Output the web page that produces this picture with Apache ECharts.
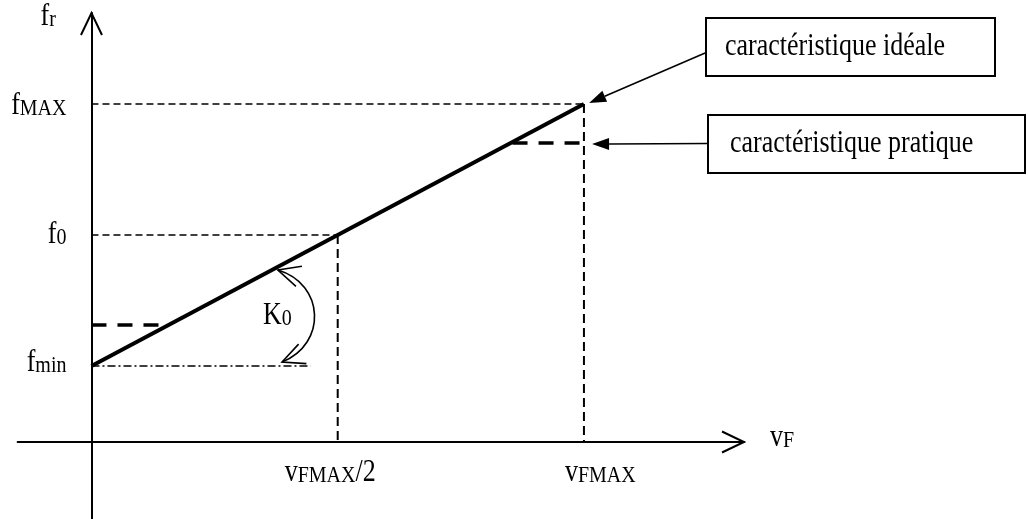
<!DOCTYPE html>
<html>
<head>
<meta charset="utf-8">
<script src="https://cdn.jsdelivr.net/npm/echarts@6/dist/echarts.min.js"></script>
<style>
  html, body { margin: 0; padding: 0; background: #fff; }
  #main { width: 1028px; height: 519px; }
</style>
</head>
<body>
<div id="main"></div>
<script>
// axis extents (v_F horizontal, f_r vertical)
var vRange = [-0.3, 2.65]
var fRange = [-0.77, 4.29]

// ticks of the v_F axis : v_FMAX/2 and v_FMAX
var vTicks = [1, 2]
var vTickLabels = ['v{s|FMAX}/2', 'v{s|FMAX}']

// ticks of the f_r axis : f_min, f_0, f_MAX
var fTicks = [0.76, 2.07, 3.38]
var fTickLabels = ['f{s|min}', 'f{s|0}', 'f{s|MAX}']

// axis names
var vName = 'v{s|F}'
var fName = 'f{s|r}'

// ideal characteristic  f_r = f_min + K0 * v_F
var ideal = [[0, 0.76], [2, 3.38]]
// practical characteristic (limits)
var practicalLow = [[0, 1.17], [0.29, 1.17]]
var practicalHigh = [[1.71, 2.99], [2, 2.99]]

// construction lines
var fmaxGuideH = [[0, 3.38], [2, 3.38]]
var fmaxGuideV = [[2, 3.38], [2, 0]]
var f0GuideH = [[0, 2.07], [1, 2.07]]
var f0GuideV = [[1, 2.07], [1, 0]]
var fminGuide = [[0, 0.76], [0.89, 0.76]]

// K0 curved arrow (start, ctrl1, ctrl2, end) and its label
var k0Arc = [[0.757, 1.72], [0.948, 1.58], [0.957, 0.98], [0.774, 0.80]]
var k0Label = [0.755, 1.26]
var k0Text = 'K{s|0}'

// callouts : [tail, tip]
var calloutIdeal = [[2.492, 3.89], [2.021, 3.39]]
var calloutPract = [[2.504, 2.985], [2.033, 2.98]]
var boxTexts = ['caractéristique idéale', 'caractéristique pratique']

var FONT = 'Liberation Serif'

function txt(x, y, text, align) {
  return {
    type: 'text', x: x, y: y, scaleY: 1.18,
    style: {
      text: text, x: 0, y: 0,
      fontFamily: FONT, fontSize: 26, lineHeight: 26,
      fill: '#000', align: align || 'left', verticalAlign: 'middle',
      rich: { s: { fontFamily: FONT, fontSize: 20, height: 21, verticalAlign: 'bottom' } }
    }
  }
}

function headPts(tip, from, len, half) {
  var dx = tip[0] - from[0], dy = tip[1] - from[1]
  var d = Math.sqrt(dx * dx + dy * dy)
  var ux = dx / d, uy = dy / d
  var bx = tip[0] - ux * len, by = tip[1] - uy * len
  return [[bx - uy * half, by + ux * half], tip, [bx + uy * half, by - ux * half], [bx, by]]
}

function openHead(tip, from, len, half, w) {
  var p = headPts(tip, from, len, half)
  return { type: 'polyline', shape: { points: [p[0], p[1], p[2]] },
    style: { stroke: '#000', fill: 'none', lineWidth: w, lineJoin: 'miter' } }
}

function arrow(pts, api) {
  var a = api.coord(pts[0]), b = api.coord(pts[1])
  var p = headPts(b, a, 17, 6)
  return [
    { type: 'line', shape: { x1: a[0], y1: a[1], x2: p[3][0], y2: p[3][1] },
      style: { stroke: '#000', lineWidth: 1.6 } },
    { type: 'polygon', shape: { points: [p[0], p[1], p[2]] }, style: { fill: '#000', stroke: null } }
  ]
}

function renderNotes(params, api) {
  var kids = []
  var o = api.coord([0, 0])
  // axis arrowheads
  kids.push(openHead(api.coord([vRange[1], 0]), o, 22, 10.5, 2))
  kids.push(openHead(api.coord([0, fRange[1]]), o, 22, 10.5, 2))

  // tick labels
  var fdy = [-3, 0, 2]
  for (var i = 0; i < fTicks.length; i++) {
    var p = api.coord([0, fTicks[i]])
    kids.push(txt(p[0] - 25, p[1] + fdy[i], fTickLabels[i], 'right'))
  }
  var vdx = [-53, -19]
  for (var j = 0; j < vTicks.length; j++) {
    var q = api.coord([vTicks[j], 0])
    kids.push(txt(q[0] + vdx[j], q[1] + 31, vTickLabels[j], 'left'))
  }
  var ve = api.coord([vRange[1], 0])
  kids.push(txt(ve[0] + 26, ve[1] - 4, vName, 'left'))
  var fe = api.coord([0, fRange[1]])
  kids.push(txt(fe[0] - 51, fe[1] + 4, fName, 'left'))

  // K0 arc
  var a0 = api.coord(k0Arc[0]), a1 = api.coord(k0Arc[1]), a2 = api.coord(k0Arc[2]), a3 = api.coord(k0Arc[3])
  kids.push({ type: 'bezierCurve',
    shape: { x1: a0[0], y1: a0[1], cpx1: a1[0], cpy1: a1[1], cpx2: a2[0], cpy2: a2[1], x2: a3[0], y2: a3[1] },
    style: { stroke: '#000', fill: 'none', lineWidth: 1.6 } })
  kids.push(openHead(a0, a1, 22, 10.5, 1.6))
  kids.push(openHead(a3, a2, 22, 10.5, 1.6))
  var kl = api.coord(k0Label)
  kids.push(txt(kl[0], kl[1], k0Text, 'center'))

  // callout arrows
  kids = kids.concat(arrow(calloutIdeal, api), arrow(calloutPract, api))
  return { type: 'group', children: kids }
}

function guide(data, w, dash) {
  return {
    type: 'line', data: data, symbol: 'none', silent: true, z: 2,
    lineStyle: { color: '#000', width: w, type: dash }
  }
}

var chart = echarts.init(document.getElementById('main'))
chart.setOption({
  backgroundColor: '#fff',
  animation: false,
  grid: { left: 17.6, right: 284, top: 13, bottom: 0, outerBoundsMode: 'none' },
  xAxis: {
    type: 'value', min: vRange[0], max: vRange[1],
    axisLine: { onZero: true, lineStyle: { color: '#000', width: 2 } },
    axisTick: { show: false }, axisLabel: { show: false }, splitLine: { show: false }
  },
  yAxis: {
    type: 'value', min: fRange[0], max: fRange[1],
    axisLine: { onZero: true, lineStyle: { color: '#000', width: 2 } },
    axisTick: { show: false }, axisLabel: { show: false }, splitLine: { show: false }
  },
  graphic: [
    { type: 'rect', shape: { x: 706, y: 18, width: 289, height: 58 },
      style: { fill: '#fff', stroke: '#000', lineWidth: 2 } },
    { type: 'rect', shape: { x: 708, y: 115, width: 317, height: 58 },
      style: { fill: '#fff', stroke: '#000', lineWidth: 2 } },
    { type: 'text', x: 725, y: 47, scaleY: 1.18,
      style: { text: boxTexts[0], fontFamily: FONT, fontSize: 26, fill: '#000', verticalAlign: 'middle' } },
    { type: 'text', x: 730, y: 144, scaleY: 1.18,
      style: { text: boxTexts[1], fontFamily: FONT, fontSize: 26, fill: '#000', verticalAlign: 'middle' } }
  ],
  series: [
    guide(fmaxGuideH, 1.4, [7, 4]),
    guide(fmaxGuideV, 2, [9, 5]),
    guide(f0GuideH, 1.4, [7, 4]),
    guide(f0GuideV, 2, [9, 5]),
    guide(fminGuide, 1.4, [8, 3, 2, 3]),
    guide(practicalLow, 3.5, [15, 11]),
    guide(practicalHigh, 3.5, [15, 11]),
    {
      type: 'line', data: ideal, symbol: 'none', silent: true, z: 3,
      lineStyle: { color: '#000', width: 4 }
    },
    {
      type: 'custom', data: [[0, 0]], clip: false, silent: true, z: 4,
      renderItem: renderNotes
    }
  ]
})
</script>
</body>
</html>
